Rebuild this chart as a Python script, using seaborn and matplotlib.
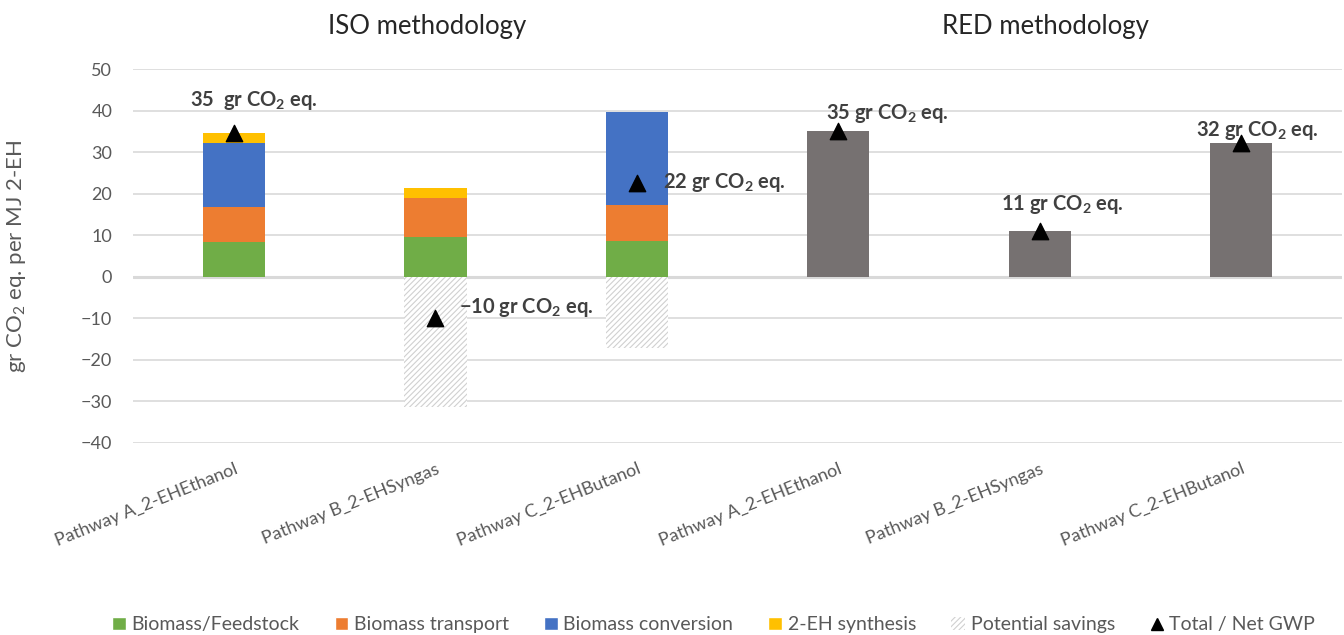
import numpy as np
import pandas as pd
import matplotlib
matplotlib.use("Agg")
import matplotlib.pyplot as plt
import seaborn as sns
from matplotlib.patches import Patch
from matplotlib.lines import Line2D

pathways = ["Pathway A_2-EHEthanol", "Pathway B_2-EHSyngas", "Pathway C_2-EHButanol"]
categories = [p + " " for p in pathways] + pathways  # ISO then RED
feedstock = [8.4, 9.6, 8.7, 0, 0, 0]
transport = [8.4, 9.4, 8.6, 0, 0, 0]
conversion = [15.4, 0.0, 22.4, 0, 0, 0]
synthesis = [2.5, 2.4, 0.0, 0, 0, 0]
red_total = [0, 0, 0, 35.1, 11.1, 32.2]
savings = [0, -31.3, -17.1, 0, 0, 0]
net_gwp = [34.7, -9.9, 22.6, 35.1, 11.1, 32.2]
labels = ["35  gr CO$_\\mathbf{2}$ eq.", "\u221210 gr CO$_\\mathbf{2}$ eq.",
          "22 gr CO$_\\mathbf{2}$ eq.", "35 gr CO$_\\mathbf{2}$ eq.",
          "11 gr CO$_\\mathbf{2}$ eq.", "32 gr CO$_\\mathbf{2}$ eq."]
# label placement (x offset from bar, y value, alignment)
label_pos = [(0.10, 42.5, "center"), (0.12, -7.5, "left"), (0.13, 22.6, "left"),
             (-0.06, 39.2, "left"), (0.11, 17.3, "center"), (0.08, 35.1, "center")]

sns.set_style("white")
plt.rcParams["font.family"] = ["Lato", "DejaVu Sans"]
plt.rcParams["mathtext.fontset"] = "custom"
plt.rcParams["mathtext.rm"] = "Lato"
plt.rcParams["mathtext.bf"] = "Lato:bold"
plt.rcParams["hatch.linewidth"] = 0.8

df = pd.DataFrame({"cat": categories})
c1 = np.array(feedstock)
c2 = c1 + np.array(transport)
c3 = c2 + np.array(conversion)
c4 = c3 + np.array(synthesis)

fig = plt.figure(figsize=(13.44, 6.35), dpi=100)
ax = fig.add_axes([0.099, 0.3024, 0.8995, 0.5889])

w = 0.31
sns.barplot(x=df["cat"], y=c4, color="#FFC000", width=w, saturation=1, ax=ax, linewidth=0)
sns.barplot(x=df["cat"], y=c3, color="#4472C4", width=w, saturation=1, ax=ax, linewidth=0)
sns.barplot(x=df["cat"], y=c2, color="#ED7D31", width=w, saturation=1, ax=ax, linewidth=0)
sns.barplot(x=df["cat"], y=c1, color="#70AD47", width=w, saturation=1, ax=ax, linewidth=0)
sns.barplot(x=df["cat"], y=red_total, color="#767171", width=w, saturation=1, ax=ax, linewidth=0)
sns.barplot(x=df["cat"], y=savings, facecolor="white", edgecolor="#D0D0D0", hatch="//////",
            width=w, ax=ax, linewidth=0)
sns.scatterplot(x=df["cat"], y=net_gwp, marker="^", color="black", s=140, ax=ax, zorder=5,
                edgecolor="black")

for i, (lab, (dx, yy, ha)) in enumerate(zip(labels, label_pos)):
    ax.text(i + dx, yy, lab, ha=ha, va="center", fontsize=14.5, fontweight="bold", color="#404040")

ax.set_xlim(-0.5, 5.5)
ax.set_ylim(-40, 50)
ax.set_yticks(range(-40, 51, 10))
ax.yaxis.grid(True, color="#D9D9D9", linewidth=1.2)
ax.set_axisbelow(True)
ax.axhline(0, color="#D9D9D9", linewidth=2.2, zorder=0.5)
for s in ax.spines.values():
    s.set_visible(False)
ax.tick_params(axis="both", length=0, labelsize=13, colors="#595959")
ax.tick_params(axis="y", pad=15)
ax.set_xticks(range(6))
ax.set_xticklabels(pathways + pathways, rotation=22, ha="right", rotation_mode="anchor")
ax.tick_params(axis="x", pad=13)
ax.set_xlabel("")
ax.set_ylabel("gr CO$_2$ eq. per MJ 2-EH", fontsize=16, color="#595959", labelpad=38)

fig.text(0.318, 0.958, "ISO methodology", ha="center", va="center", fontsize=18.5, color="#262626")
fig.text(0.778, 0.958, "RED methodology", ha="center", va="center", fontsize=18.5, color="#262626")

handles = [Patch(facecolor="#70AD47"), Patch(facecolor="#ED7D31"), Patch(facecolor="#4472C4"),
           Patch(facecolor="#FFC000"),
           Patch(facecolor="white", edgecolor="#D0D0D0", hatch="//////", linewidth=0),
           Line2D([], [], marker="^", color="black", linestyle="none", markersize=8)]
names = ["Biomass/Feedstock", "Biomass transport", "Biomass conversion", "2-EH synthesis",
         "Potential savings", "Total / Net GWP"]
leg = fig.legend(handles, names, loc="center", bbox_to_anchor=(0.531, 0.016), ncol=6,
                 frameon=False, fontsize=14, handlelength=0.7, handleheight=0.7,
                 handletextpad=0.3, columnspacing=1.8)
for t in leg.get_texts():
    t.set_color("#595959")

fig.savefig("out.png", dpi=100)
